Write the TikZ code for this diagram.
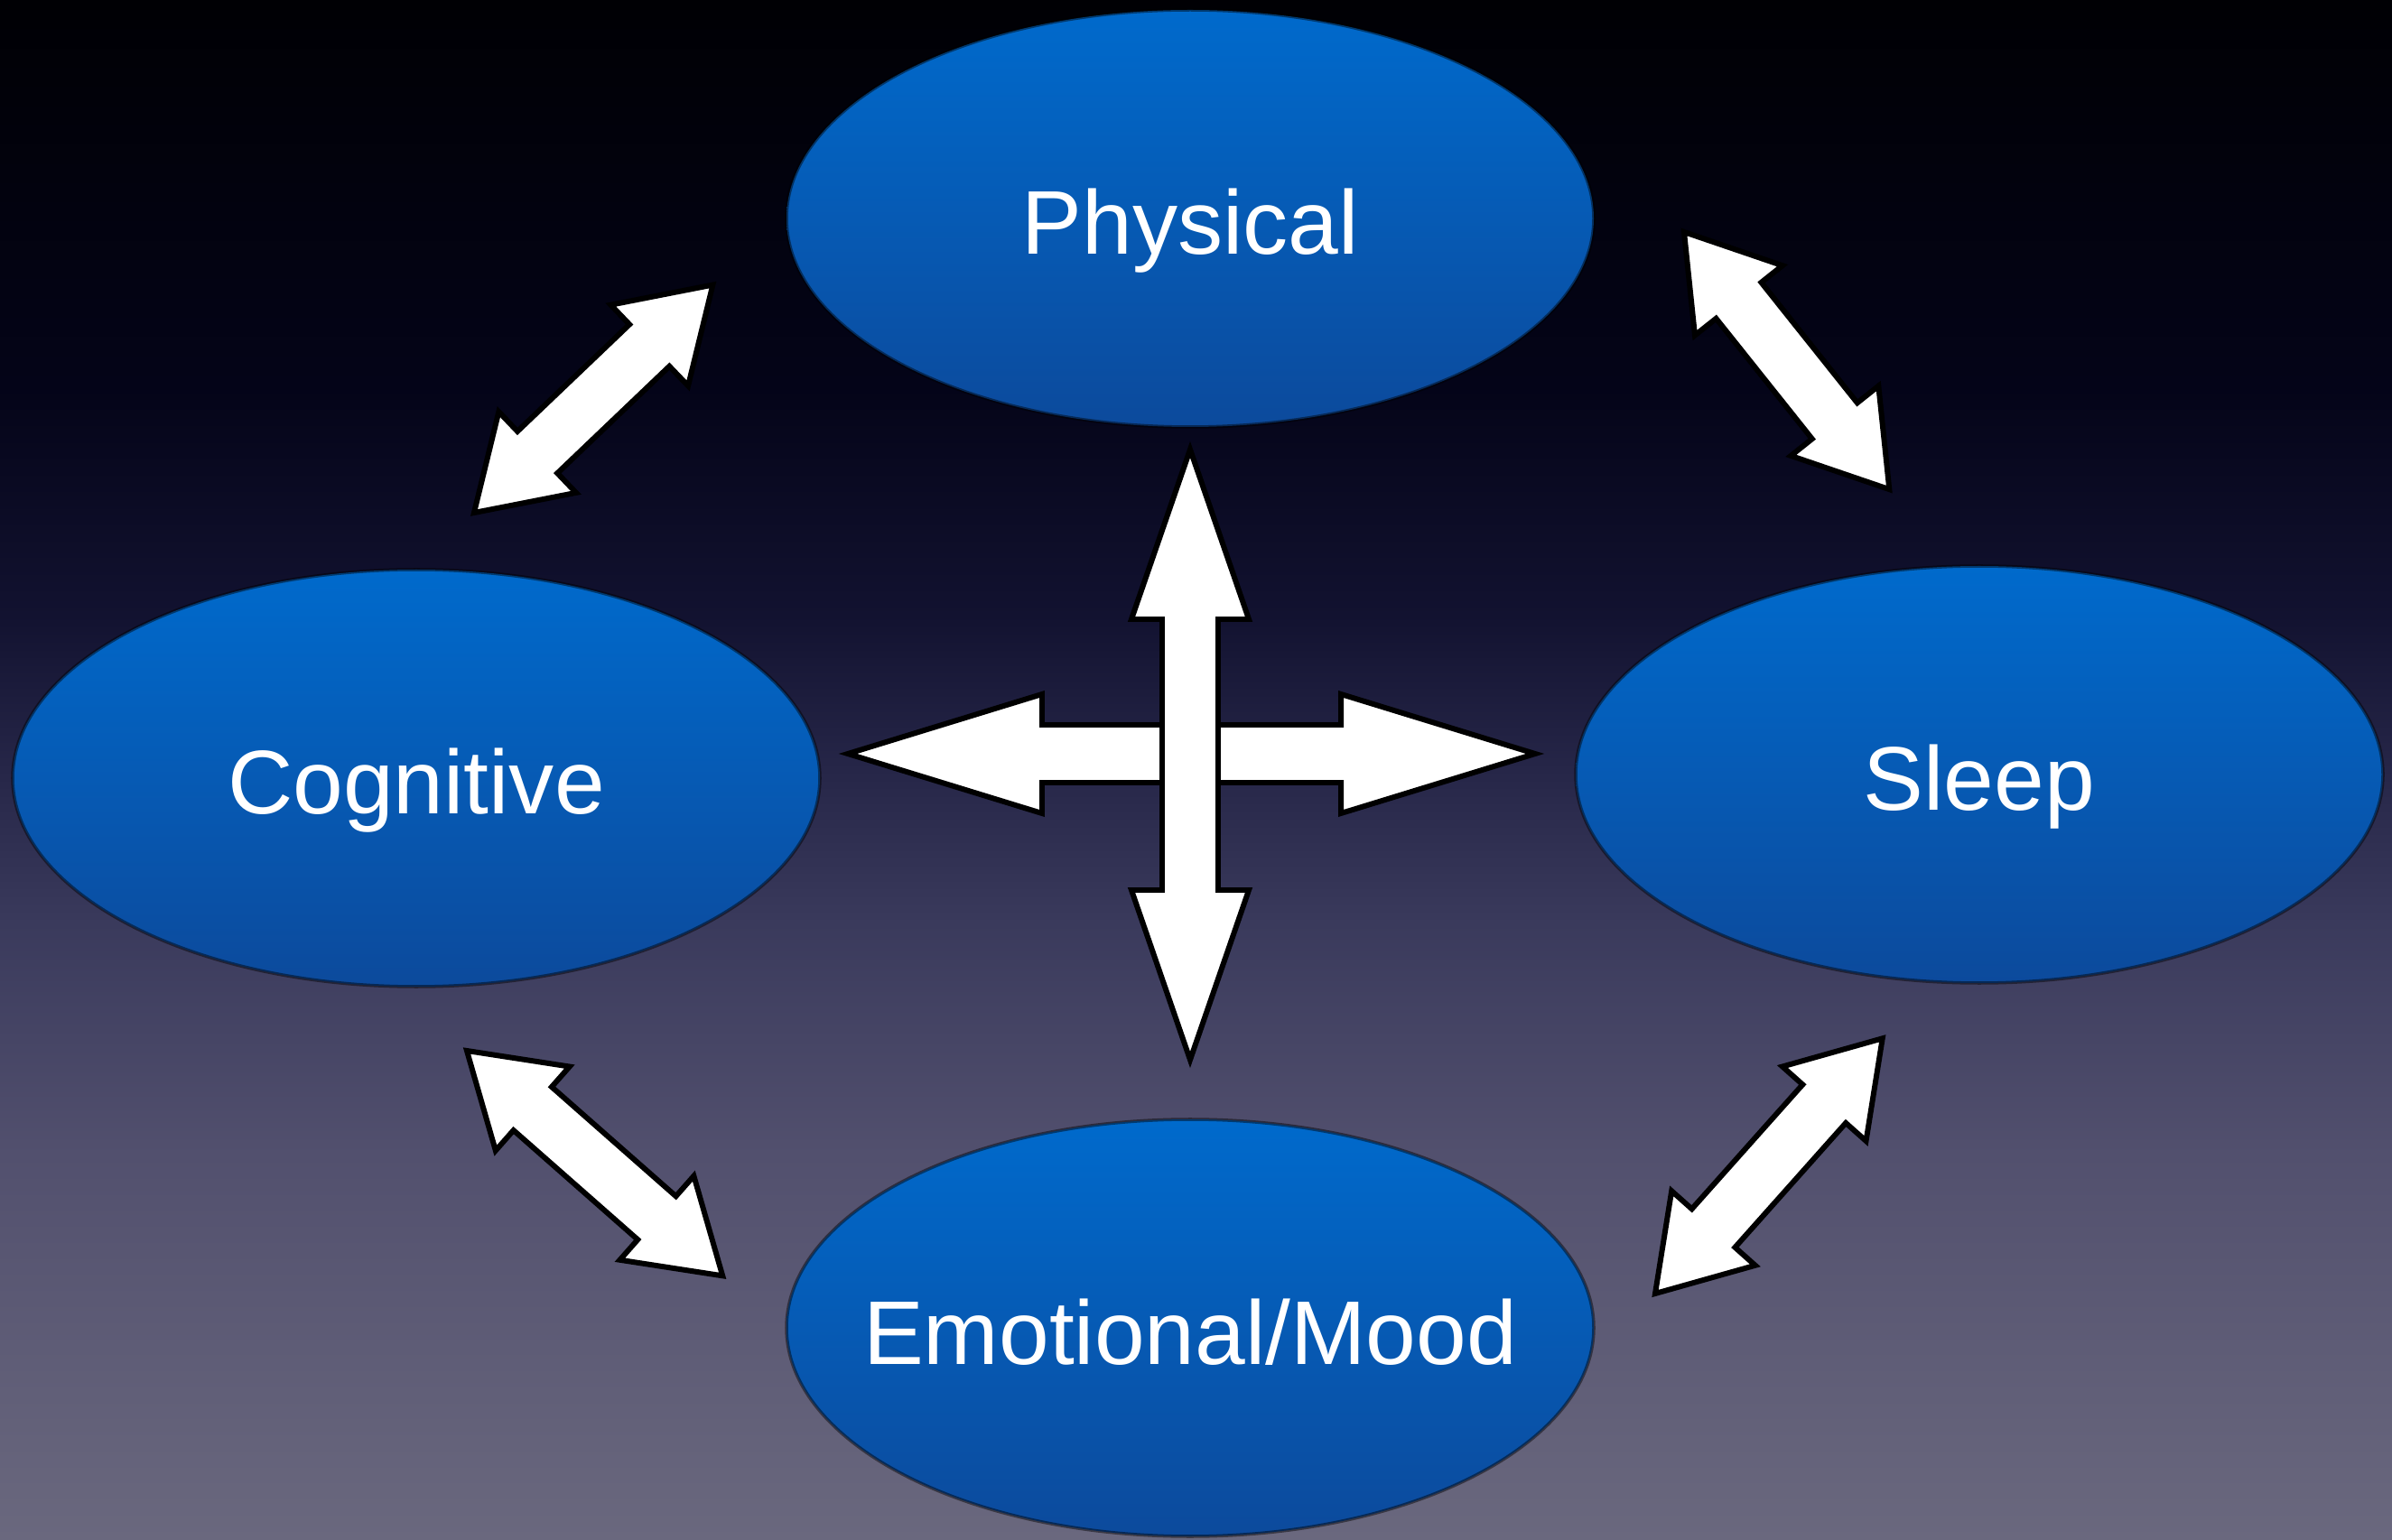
\documentclass[tikz,border=0pt]{standalone}
\usepackage{fontspec}
\setmainfont{Liberation Sans}
\usepackage{tikz}
\usetikzlibrary{shapes.geometric, calc}
\usepackage{xcolor}
\definecolor{bgtop}{RGB}{0,0,4}
\definecolor{bgdark}{RGB}{4,4,24}
\definecolor{bgnavy}{RGB}{18,18,48}
\definecolor{bgmid}{RGB}{38,38,72}
\definecolor{bgdusk}{RGB}{58,58,92}
\definecolor{bglow}{RGB}{82,80,110}
\definecolor{bgbot}{RGB}{106,104,126}
\definecolor{ovaltop}{RGB}{0,106,204}
\definecolor{ovalbot}{RGB}{12,74,156}

\pgfdeclareverticalshading{backdrop}{100bp}{color(0bp)=(bgbot); color(25bp)=(bgbot);
  color(37.5bp)=(bglow); color(45bp)=(bgdusk); color(50bp)=(bgmid); color(55bp)=(bgnavy);
  color(62.5bp)=(bgdark); color(75bp)=(bgtop); color(100bp)=(bgtop)}

% block arrow with two heads: from, to, head length, head half width, shaft half width
\newcommand{\twowayarrow}[5]{%
  \draw[blockarrow] let \p1=(#1), \p2=(#2),
      \n1={atan2(\y2-\y1,\x2-\x1)}, \n2={veclen(\x2-\x1,\y2-\y1)} in
    [shift={(\p1)}, rotate=\n1]
    (0,0) -- (#3,#4) -- (#3,#5) -- ({\n2*1pt-#3},#5) -- ({\n2*1pt-#3},#4) -- ({\n2*1pt},0)
    -- ({\n2*1pt-#3},-#4) -- ({\n2*1pt-#3},-#5) -- (#3,-#5) -- (#3,-#4) -- cycle;
}

\begin{document}
\begin{tikzpicture}[
    blob/.style={ellipse, minimum width=8.94cm, minimum height=4.62cm, inner sep=0pt,
      top color=ovaltop, bottom color=ovalbot, draw=black, draw opacity=0.45, line width=1pt},
    blobtext/.style={text=white, font=\fontsize{28.5}{34}\selectfont,
      text height=0.8cm, text depth=0pt, inner sep=0pt},
    blockarrow/.style={fill=white, draw=black, line width=1.7pt, line join=miter}
  ]
  % background
  \fill[shading=backdrop] (0,0) rectangle (26.49,17.05);

  % the four areas
  \node[blob, label={[blobtext]center:Physical}] (phy) at (13.18,14.63) {};
  \node[blob, label={[blobtext]center:Cognitive}] (cog) at (4.61,8.43) {};
  \node[blob, label={[blobtext]center:Sleep}] (slp) at (21.92,8.47) {};
  \node[blob, label={[blobtext]center:Emotional/Mood}] (emo) at (13.18,2.34) {};

  % arrow ends
  \coordinate (hl) at (9.39,8.70);
  \coordinate (hr) at (17.00,8.70);
  \coordinate (vt) at (13.18,12.07);
  \coordinate (vb) at (13.18,5.31);
  \coordinate (cp1) at (5.25,11.37);
  \coordinate (cp2) at (7.90,13.90);
  \coordinate (ps1) at (18.65,14.48);
  \coordinate (ps2) at (20.93,11.62);
  \coordinate (ce1) at (5.17,5.41);
  \coordinate (ce2) at (8.01,2.91);
  \coordinate (es1) at (18.33,2.72);
  \coordinate (es2) at (20.85,5.55);

  % centre cross
  \twowayarrow{hl}{hr}{2.15cm}{0.66cm}{0.32cm}
  \twowayarrow{vb}{vt}{1.88cm}{0.65cm}{0.31cm}

  % links round the ring
  \twowayarrow{cp1}{cp2}{0.97cm}{0.62cm}{0.32cm}
  \twowayarrow{ps1}{ps2}{0.97cm}{0.62cm}{0.32cm}
  \twowayarrow{ce1}{ce2}{0.97cm}{0.62cm}{0.32cm}
  \twowayarrow{es1}{es2}{0.97cm}{0.62cm}{0.32cm}
\end{tikzpicture}
\end{document}
